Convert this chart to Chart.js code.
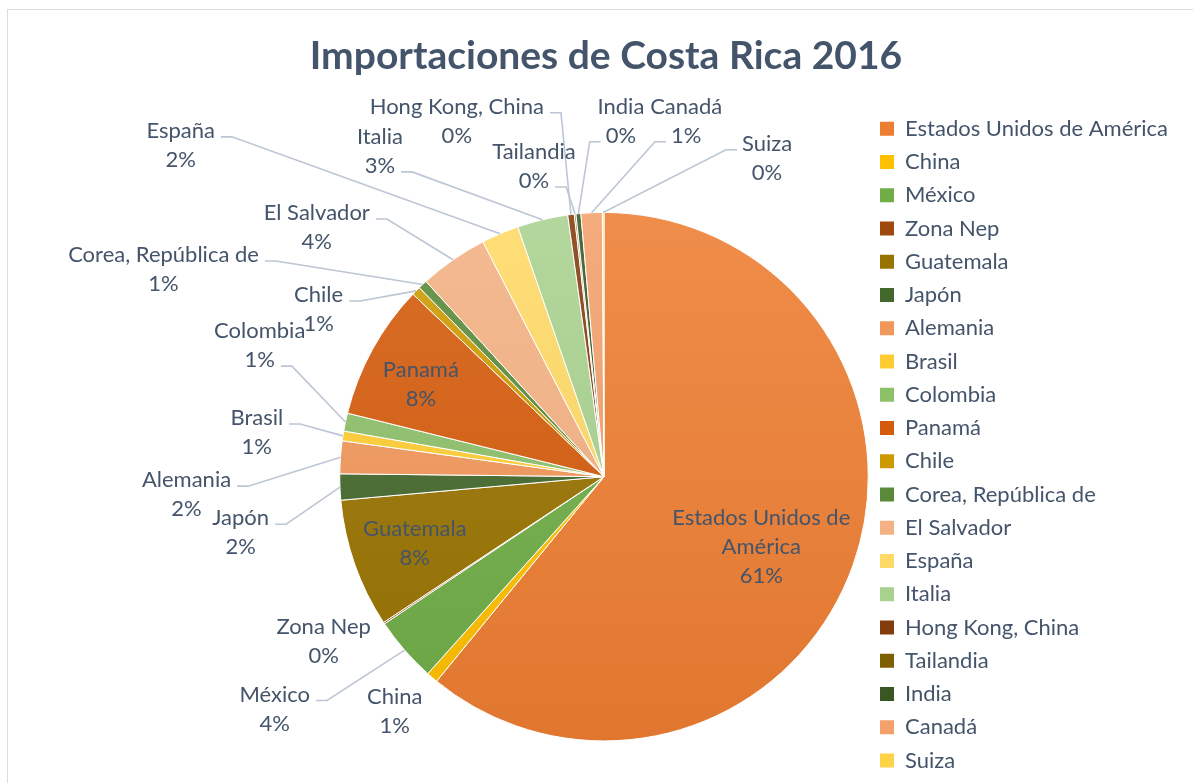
<!DOCTYPE html>
<html>
<head>
<meta charset="utf-8">
<script src="https://cdn.jsdelivr.net/npm/chart.js@4.4.0/dist/chart.umd.min.js"></script>
<style>
html, body { margin: 0; padding: 0; background: #fff; overflow: hidden; }
/* taller than the window: the pie centre sits below the middle of the visible part */
#wrap { position: relative; width: 1193px; height: 847px; }
#frame { position: absolute; left: 7px; top: 9px; width: 1400px; height: 1000px; border: 1px solid #dadee4; }
#wrap canvas { position: absolute; left: 0; top: 0; }
</style>
</head>
<body>
<div id="wrap"><div id="frame"></div><canvas id="pieChart"></canvas></div>
<script>
// data (share of total imports, %)
var countries = ["Estados Unidos de América", "China", "México", "Zona Nep", "Guatemala", "Japón",
    "Alemania", "Brasil", "Colombia", "Panamá", "Chile", "Corea, República de", "El Salvador",
    "España", "Italia", "Hong Kong, China", "Tailandia", "India", "Canadá", "Suiza"];
var shares = [61.1, 0.7, 4.0, 0.1, 7.9, 1.6, 2.0, 0.6, 1.1, 8.3, 0.55, 0.55, 4.2, 2.3, 3.1, 0.4, 0.1, 0.3, 1.3, 0.1];
var chartTitle = "Importaciones de Costa Rica 2016";

// styles
var sliceColors = ["#ED7D31", "#FFC000", "#70AD47", "#9E480E", "#997300", "#43682B",
    "#F1975A", "#FFCD33", "#8CC168", "#D55B0C", "#CC9A00", "#5A8A39", "#F4B183",
    "#FFD966", "#A9D18E", "#843C0C", "#7F6000", "#385723", "#F3A06B", "#FFD347"];
var textColor = "#44546A";
var leaderColor = "#BCC6D4";
var fontFamily = "Lato";
var labelSize = 22;

// label placement, in units of pie radius from the centre; leader = side/line it hangs from
var labelPlace = [
    {fx: 0.595, fy: 0.265, wrap: 200},
    {fx: -0.792, fy: 0.890},
    {fx: -1.246, fy: 0.879, leader: ["r", 0]},
    {fx: -1.061, fy: 0.625},
    {fx: -0.716, fy: 0.254},
    {fx: -1.375, fy: 0.212, leader: ["r", 0]},
    {fx: -1.580, fy: 0.068, leader: ["r", 0]},
    {fx: -1.314, fy: -0.167, leader: ["r", 0]},
    {fx: -1.303, fy: -0.496, leader: ["r", 1]},
    {fx: -0.693, fy: -0.348},
    {fx: -1.080, fy: -0.633, leader: ["r", 0]},
    {fx: -1.667, fy: -0.784, leader: ["r", 0]},
    {fx: -1.087, fy: -0.943, leader: ["r", 0]},
    {fx: -1.602, fy: -1.254, leader: ["r", 0]},
    {fx: -0.848, fy: -1.231, leader: ["r", 1]},
    {fx: -0.557, fy: -1.345, leader: ["r", 0]},
    {fx: -0.265, fy: -1.174, leader: ["r", 1]},
    {fx: 0.064, fy: -1.345, leader: ["l", 1]},
    {fx: 0.311, fy: -1.345, leader: ["l", 1]},
    {fx: 0.617, fy: -1.205, leader: ["l", 0]}
];
var lineGap = 29;

// layout: legend boxes start at x=880, pie centred at x=604, title centred at x=606
var legendPad = 11.26, legendBox = 14;
var legendLeft = 880 - legendPad;
var pieCentreX = 604;
var mctx = document.createElement("canvas").getContext("2d");
mctx.font = labelSize + "px " + fontFamily;
var maxText = Math.max.apply(null, countries.map(function(c) { return mctx.measureText(c).width; }));
var legendWidth = legendPad + legendBox + labelSize / 2 + maxText + 10;
var padRight = 1193 - legendLeft - legendWidth;
var padLeft = padRight + 19;
var spacerWidth = 2 * pieCentreX - legendLeft - padLeft;

function shade(hex, amt) {
    var n = parseInt(hex.slice(1), 16);
    var rgb = [(n >> 16) & 255, (n >> 8) & 255, n & 255].map(function(v) {
        return Math.round(amt > 0 ? v + (255 - v) * amt : v * (1 + amt));
    });
    return "rgb(" + rgb.join(",") + ")";
}

function wrapText(ctx, text, maxW) {
    var words = text.split(" "), lines = [], cur = "";
    words.forEach(function(w) {
        var test = cur ? cur + " " + w : w;
        if (cur && ctx.measureText(test).width > maxW) { lines.push(cur); cur = w; }
        else cur = test;
    });
    lines.push(cur);
    return lines;
}

// empty box on the left so the pie sits where it does in the original
var leftSpacer = {
    id: "leftSpacer",
    beforeInit: function(chart) {
        Chart.layouts.addBox(chart, {
            position: "left",
            weight: 0,
            fullSize: false,
            options: {},
            isHorizontal: function() { return false; },
            update: function(maxW, maxH) { this.width = spacerWidth; this.height = maxH; },
            draw: function() {}
        });
    }
};

var sliceLabels = {
    id: "sliceLabels",
    afterDatasetsDraw: function(chart) {
        var ctx = chart.ctx;
        var meta = chart.getDatasetMeta(0);
        var total = shares.reduce(function(a, b) { return a + b; }, 0);
        ctx.save();
        ctx.font = labelSize + "px " + fontFamily;
        ctx.textAlign = "center";
        ctx.textBaseline = "middle";
        meta.data.forEach(function(arc, i) {
            var p = arc.getProps(["x", "y", "startAngle", "endAngle", "outerRadius"], true);
            var mid = (p.startAngle + p.endAngle) / 2;
            var ax = p.x + Math.cos(mid) * p.outerRadius;
            var ay = p.y + Math.sin(mid) * p.outerRadius;
            var place = labelPlace[i];
            var cx = p.x + place.fx * p.outerRadius;
            var cy = p.y + place.fy * p.outerRadius;
            var lines = wrapText(ctx, countries[i], place.wrap || 9999);
            lines.push(Math.round(shares[i] / total * 100) + "%");
            var y0 = cy - (lines.length - 1) * lineGap / 2;
            if (place.leader) {
                var li = place.leader[1];
                var w = ctx.measureText(lines[li]).width;
                var ly = y0 + li * lineGap + 6;
                var x0, x1;
                if (place.leader[0] == "r") { x0 = cx + w / 2 + 6; x1 = x0 + 11; }
                else { x0 = cx - w / 2 - 5; x1 = x0 - 11; }
                ctx.beginPath();
                ctx.moveTo(x0, ly);
                ctx.lineTo(x1, ly);
                ctx.lineTo(ax, ay);
                ctx.strokeStyle = leaderColor;
                ctx.lineWidth = 1.6;
                ctx.stroke();
            }
            ctx.fillStyle = textColor;
            lines.forEach(function(t, k) { ctx.fillText(t, cx, y0 + k * lineGap); });
        });
        ctx.restore();
    }
};

var ctx = document.getElementById("pieChart").getContext("2d");
var chart = new Chart(ctx, {
    type: "pie",
    data: {
        labels: countries,
        datasets: [{
            data: shares,
            backgroundColor: function(c) {
                var base = sliceColors[c.dataIndex || 0];
                var area = c.chart.chartArea;
                if (!area) return base;
                var cy = (area.top + area.bottom) / 2;
                var r = Math.min(area.right - area.left, area.bottom - area.top) / 2;
                var g = c.chart.ctx.createLinearGradient(0, cy - r, 0, cy + r);
                g.addColorStop(0, shade(base, 0.12));
                g.addColorStop(1, shade(base, -0.05));
                return g;
            },
            borderColor: "#ffffff",
            borderWidth: 1
        }]
    },
    options: {
        responsive: true,
        maintainAspectRatio: false,
        animation: false,
        layout: {padding: {left: padLeft, right: padRight, top: 0, bottom: 0}},
        plugins: {
            title: {
                display: true,
                text: chartTitle,
                color: textColor,
                font: {family: fontFamily, size: 39, weight: "bold"},
                padding: {top: 32.6, bottom: 27}
            },
            legend: {
                position: "right",
                align: "start",
                fullSize: false,
                maxWidth: 420,
                labels: {
                    boxWidth: legendBox,
                    boxHeight: legendBox,
                    padding: legendPad,
                    color: textColor,
                    font: {family: fontFamily, size: labelSize},
                    generateLabels: function(chart) {
                        var items = Chart.overrides.doughnut.plugins.legend.labels.generateLabels(chart);
                        items.forEach(function(it, i) {
                            it.fillStyle = sliceColors[i];
                            it.strokeStyle = sliceColors[i];
                            it.lineWidth = 0;
                        });
                        return items;
                    }
                }
            },
            tooltip: {enabled: false}
        }
    },
    plugins: [leftSpacer, sliceLabels]
});
</script>
</body>
</html>
